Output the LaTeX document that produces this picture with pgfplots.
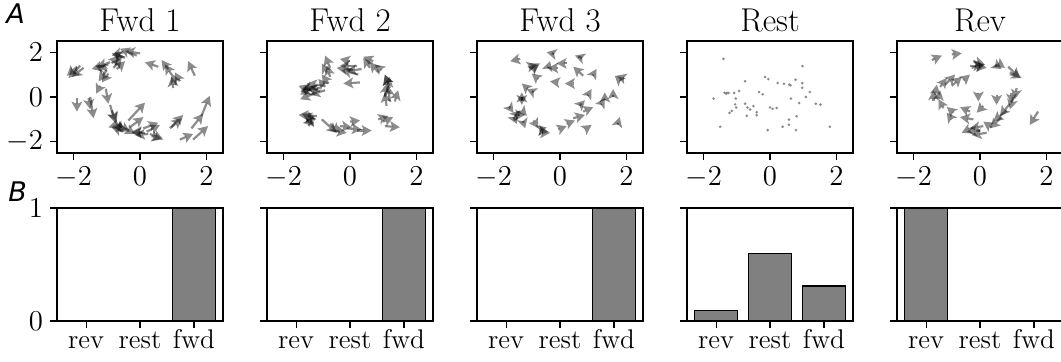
\documentclass[border=0pt]{standalone}
\usepackage{fontspec}
\usepackage{pgfplots}
\pgfplotsset{compat=1.18}
\usetikzlibrary{arrows.meta}
\newfontfamily\dejavu{DejaVu Sans}

\pgfplotstableread{
x y u v
-1.80 1.40 -0.35 -0.55
-1.90 1.35 -0.30 -0.40
-1.70 1.30 -0.35 -0.40
-0.95 1.45 -0.50 -0.20
-1.00 1.20 -0.35 0.20
-0.90 1.55 -0.40 -0.20
-1.00 1.20 -0.25 -0.50
-0.95 1.05 -0.20 -0.40
-0.45 1.75 -0.40 0.20
-0.50 2.00 -0.35 -0.15
-0.60 1.70 -0.15 0.30
-0.10 1.85 -0.50 0.30
0.00 1.95 -0.45 0.10
-0.80 1.30 0.25 0.45
-0.70 1.25 0.25 0.35
-0.85 1.50 0.20 0.35
0.55 1.35 -0.40 0.20
0.85 1.25 -0.20 0.40
0.95 1.00 -0.20 0.45
1.10 0.55 -0.15 0.50
1.00 0.40 -0.05 0.50
1.20 0.70 -0.15 0.40
1.65 0.95 -0.20 0.65
-1.90 -0.05 0.00 -0.60
-1.50 0.00 0.10 -0.95
-1.55 -0.05 0.05 -0.50
-1.20 0.50 -0.12 -0.35
-1.03 0.37 0.08 -0.67
-0.90 -0.35 0.15 -0.80
-0.85 -0.60 0.15 -0.50
-0.55 -1.20 -0.40 -0.15
-0.50 -1.55 -0.35 0.20
-0.75 -1.05 0.20 -0.50
-0.65 -1.25 0.35 -0.30
-0.45 -1.40 0.30 -0.25
-0.70 -1.30 0.30 -0.15
-0.35 -1.05 0.50 0.80
-0.30 -1.35 0.40 0.45
0.15 -1.60 -0.40 0.00
0.25 -1.65 -0.40 -0.05
0.05 -1.55 -0.30 0.00
0.10 -1.40 0.45 0.25
0.20 -1.55 0.40 0.30
0.30 -1.65 0.40 -0.25
0.35 -1.75 0.30 -0.10
0.90 -1.40 0.40 0.60
0.95 -1.35 0.30 0.40
1.20 -1.90 0.40 0.25
1.60 -1.90 0.45 0.60
1.55 -1.40 0.35 0.65
1.85 -0.85 0.25 0.90
}\fwdA

\pgfplotstableread{
x y u v
-0.90 0.40 -0.60 -0.15
-1.00 0.20 -0.50 -0.30
-0.80 0.50 -0.50 0.10
-1.00 0.50 -0.45 -0.15
-0.90 0.25 -0.40 0.20
-1.10 0.45 -0.40 -0.35
-1.20 0.30 -0.35 0.20
-0.75 0.30 -0.45 -0.20
-0.60 1.30 -0.15 0.55
-0.60 0.90 -0.10 0.50
-0.65 0.60 -0.20 0.40
-0.75 0.45 -0.20 0.35
-0.70 1.10 -0.15 0.40
0.20 1.40 -0.50 0.00
0.10 1.20 -0.50 0.10
0.00 1.60 -0.30 0.10
0.30 0.65 -0.50 -0.05
0.25 1.00 -0.50 0.20
0.35 1.25 -0.45 -0.10
0.60 1.30 -0.20 0.45
0.85 1.10 -0.25 0.45
0.95 1.20 -0.20 0.25
0.70 1.60 -0.30 0.20
1.10 0.20 0.10 0.70
1.20 -0.20 -0.05 0.70
1.10 -0.40 -0.05 0.60
1.35 -0.20 0.10 0.50
1.20 0.40 -0.15 0.60
1.05 0.00 0.05 0.60
1.15 0.60 -0.10 0.40
-1.00 -0.85 -0.55 0.05
-1.15 -1.20 -0.10 0.55
-1.25 -1.30 0.15 0.45
-1.05 -1.00 -0.40 0.25
-1.30 -1.00 0.20 -0.30
-0.85 -1.00 0.45 -0.60
-0.60 -1.20 0.30 -0.40
-0.30 -1.30 0.35 -0.05
-0.10 -1.40 0.45 -0.05
0.00 -1.10 0.30 0.05
-0.50 -1.50 0.40 -0.10
0.20 -1.50 0.45 0.00
0.85 -1.00 0.30 0.15
1.00 -1.10 0.30 0.20
1.05 -1.30 0.45 -0.05
}\fwdB

\pgfplotstableread{
x y u v
-1.20 1.70 -0.30 -0.10
-0.25 1.95 -0.15 0.05
0.55 1.80 -0.10 0.05
-0.90 1.25 0.30 0.25
-0.85 1.20 0.20 0.25
-0.35 1.35 0.05 0.25
-0.05 1.30 -0.30 0.00
0.20 1.50 -0.30 0.00
0.70 0.95 -0.30 0.40
1.00 1.00 0.10 0.25
1.80 0.75 -0.15 0.20
1.90 0.85 -0.20 0.10
-0.65 0.80 -0.20 0.25
-0.05 0.65 -0.25 0.05
0.40 0.60 -0.25 0.00
-1.00 0.40 -0.15 0.20
-0.85 0.25 -0.15 0.10
-1.15 0.00 0.00 0.20
-1.15 -0.20 0.00 -0.15
0.85 0.10 0.10 0.25
1.60 0.10 0.00 0.25
1.35 -0.10 0.00 0.30
0.65 -0.30 0.10 0.15
1.25 -0.30 0.10 0.25
-1.50 -0.50 0.10 -0.20
-1.20 -0.80 0.15 0.00
-1.15 -0.60 0.15 -0.25
-1.35 -1.05 0.05 -0.15
-1.10 -1.15 0.05 -0.25
-0.80 -1.05 0.15 -0.35
-0.60 -1.50 0.25 -0.05
-0.55 -1.60 0.25 0.00
-0.60 -1.45 0.20 0.10
-0.05 -1.45 0.25 0.15
0.20 -1.20 0.25 0.15
0.40 -0.95 0.35 0.15
0.70 -0.65 0.30 0.20
0.75 -1.45 0.20 0.20
1.75 -1.15 0.05 0.25
-1.30 -0.75 0.10 0.15
-0.95 1.35 0.25 0.10
}\fwdC

\pgfplotstableread{
x y
-1.40 1.70
-1.70 -0.07
-1.50 -1.33
-1.37 0.19
-1.30 0.18
-1.25 0.18
-1.32 0.15
-1.08 0.18
-0.93 0.27
-1.03 -0.07
-1.05 -0.33
-1.02 -0.47
-1.15 -0.62
-1.22 -0.71
-0.75 0.70
-0.75 -0.30
-0.68 -0.47
-0.60 -0.56
-0.70 -0.84
-0.50 -0.41
-0.40 -0.68
-0.40 -0.81
-0.33 0.22
-0.22 0.12
-0.15 0.89
-0.05 0.80
0.00 -0.47
0.08 -0.53
0.20 -0.49
-0.07 -1.48
0.23 0.62
0.42 0.59
0.58 0.55
0.62 0.52
0.63 -0.07
0.57 -1.01
0.57 -1.24
0.38 -1.33
0.77 0.77
0.80 -0.86
0.78 -1.48
0.88 -0.27
0.98 1.38
0.97 0.62
0.97 0.41
1.08 0.00
1.20 0.22
1.38 -0.30
1.52 -0.34
1.80 -1.33
}\restpts

\pgfplotstableread{
x y u v
-1.45 1.65 0.30 0.20
-0.85 1.90 0.30 0.05
-0.30 1.40 0.40 0.00
-0.25 1.30 0.40 0.15
-0.20 1.60 0.35 -0.15
0.00 1.35 0.20 -0.05
0.55 1.50 0.20 -0.20
0.50 1.40 0.15 -0.15
0.85 1.35 0.35 -0.50
0.90 1.10 0.35 -0.25
-1.05 0.55 0.30 0.45
-0.85 0.50 0.30 0.40
-1.20 0.45 0.20 0.40
-0.50 0.75 0.20 0.25
-1.40 -0.20 0.00 0.50
-1.25 -0.10 0.05 0.40
-1.10 -0.50 -0.15 0.40
-0.80 -0.70 -0.20 0.25
-0.85 -1.00 -0.15 0.30
-0.30 -0.65 -0.30 0.20
-0.05 0.20 0.00 -0.40
0.10 -0.40 -0.20 -0.30
0.50 0.10 0.00 -0.45
0.95 0.20 0.00 -0.50
1.10 0.40 -0.05 -0.50
0.90 -0.30 -0.30 -0.55
0.80 -0.60 -0.40 -0.50
0.65 -0.90 -0.35 -0.50
-0.20 -1.00 -0.40 0.10
0.00 -1.50 -0.40 -0.05
0.10 -1.30 -0.40 -0.10
0.20 -1.60 -0.45 -0.10
-0.20 -1.35 -0.35 -0.25
0.35 -1.35 -0.25 0.25
1.75 -0.65 -0.25 -0.60
1.00 0.00 -0.10 -0.55
-1.35 0.10 0.05 0.45
}\revpts

\pgfplotsset{
  base/.style={scale only axis, width=83pt, anchor=south west,
    axis line style={line width=0.6pt}, tick align=outside, tick pos=left,
    major tick length=3.5pt, tick style={black, line width=0.6pt},
    tick label style={font=\fontsize{13.5}{16}\selectfont},
    title style={at={(0.5,1)}, anchor=base, yshift=-1.5pt, font=\fontsize{16.5}{19}\selectfont}},
  quiv/.style={base, height=56pt, xmin=-2.5, xmax=2.5, ymin=-2.5, ymax=2.5,
    xtick={-2,0,2}, ytick={-2,0,2}},
  bars/.style={base, height=56.5pt, xmin=-0.54, xmax=2.54, ymin=0, ymax=1,
    xtick={0,1,2}, xticklabels={rev,rest,fwd}, ytick={0,1}, ybar, bar width=0.8,
    xticklabel style={text height=1.6ex, text depth=0.25ex}},
  arr/.style={quiver={u=\thisrow{u}, v=\thisrow{v},
      every arrow/.append style={draw opacity=0.45, fill opacity=0.45}},
    -{Stealth[length=5pt,width=5.5pt,inset=1.2pt,line width=0pt]}, black, line width=1.1pt},
  bar/.style={fill=gray, draw=black, line width=0.6pt},
}

\begin{document}
\begin{tikzpicture}
% top row
\begin{axis}[quiv, at={(28.5pt,-76.5pt)}, title={Fwd 1}]
\addplot[arr] table {\fwdA};
\end{axis}
\begin{axis}[quiv, at={(133.5pt,-76.5pt)}, title={Fwd 2}, yticklabels={,,}]
\addplot[arr] table {\fwdB};
\end{axis}
\begin{axis}[quiv, at={(238.5pt,-76.5pt)}, title={Fwd 3}, yticklabels={,,}]
\addplot[arr] table {\fwdC};
\end{axis}
\begin{axis}[quiv, at={(343.5pt,-76.5pt)}, title={Rest}, yticklabels={,,}]
\addplot[only marks, mark=*, mark size=0.45pt, gray, opacity=0.8] table {\restpts};
\end{axis}
\begin{axis}[quiv, at={(448.5pt,-76.5pt)}, title={Rev}, yticklabels={,,}]
\addplot[arr] table {\revpts};
\end{axis}
% bottom row
\begin{axis}[bars, at={(28.5pt,-160.5pt)}]
\addplot[bar] coordinates {(0,0.003) (1,0.005) (2,1)};
\end{axis}
\begin{axis}[bars, at={(133.5pt,-160.5pt)}, yticklabels={,}]
\addplot[bar] coordinates {(0,0.002) (1,0.002) (2,1)};
\end{axis}
\begin{axis}[bars, at={(238.5pt,-160.5pt)}, yticklabels={,}]
\addplot[bar] coordinates {(0,0.004) (1,0.002) (2,1)};
\end{axis}
\begin{axis}[bars, at={(343.5pt,-160.5pt)}, yticklabels={,}]
\addplot[bar] coordinates {(0,0.09) (1,0.60) (2,0.31)};
\end{axis}
\begin{axis}[bars, at={(448.5pt,-160.5pt)}, yticklabels={,}]
\addplot[bar] coordinates {(0,1) (1,0.003) (2,0.004)};
\end{axis}
% panel letters
\node[anchor=base west, inner sep=0pt, font=\dejavu\itshape\fontsize{13.5}{16}\selectfont] at (3pt,-12pt) {A};
\node[anchor=base west, inner sep=0pt, font=\dejavu\itshape\fontsize{13.5}{16}\selectfont] at (4pt,-101pt) {B};
\pgfresetboundingbox
\useasboundingbox (0pt,0pt) rectangle (530.5pt,-181pt);
\end{tikzpicture}
\end{document}
